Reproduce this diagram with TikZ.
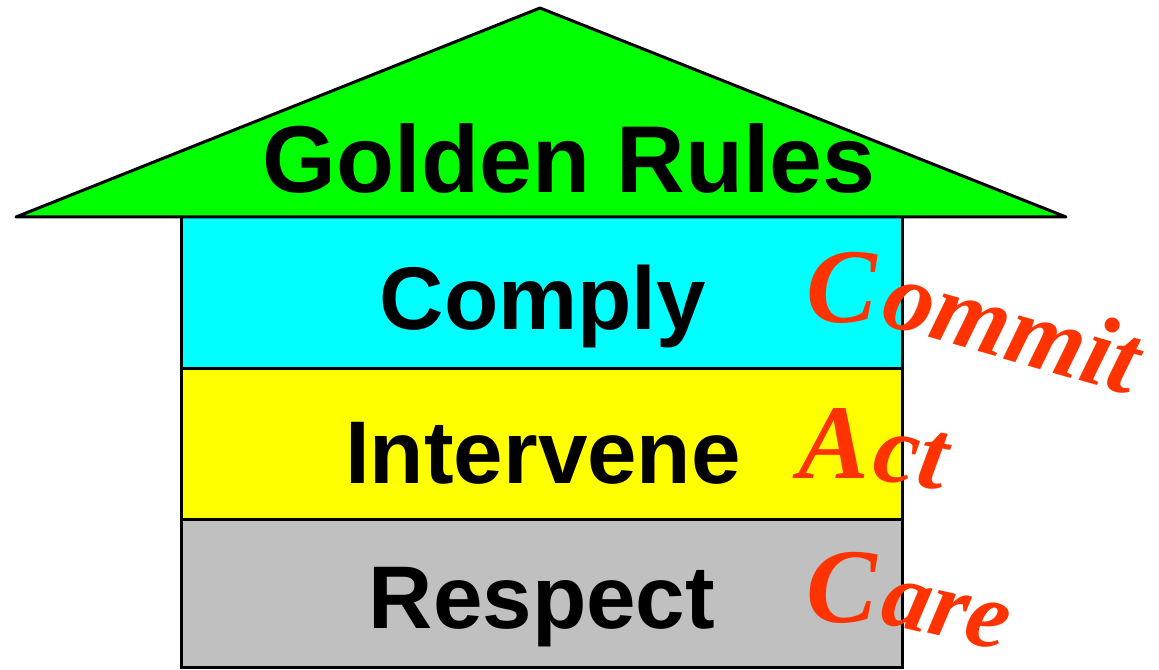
\documentclass[tikz,border=0pt]{standalone}
\usepackage{fontspec}
\newfontfamily\rulefont{Liberation Sans}
\newfontfamily\wordfont{Liberation Serif}
\usetikzlibrary{positioning}
\definecolor{roofgreen}{HTML}{00FF00}
\definecolor{bandcyan}{HTML}{00FFFF}
\definecolor{bandyellow}{HTML}{FFFF00}
\definecolor{bandgray}{HTML}{C0C0C0}
\definecolor{wordred}{HTML}{FF3300}
\tikzset{
  band/.style={draw=black,line width=1.5pt},
  rule/.style={inner sep=0pt,anchor=base,font=\rulefont\bfseries\fontsize{44.5}{50}\selectfont},
  capital/.style={inner sep=0pt,anchor=base east,text=wordred,font=\wordfont\bfseries\itshape\fontsize{53}{60}\selectfont},
  tail/.style={inner sep=0pt,anchor=base west,text=wordred,font=\wordfont\bfseries\itshape\fontsize{50}{60}\selectfont},
}
\begin{document}
\begin{tikzpicture}[x=0.5pt,y=0.5pt]
  \useasboundingbox (0,0) rectangle (1159,669);
%
  \fill[white] (0,0) rectangle (1159,669);
%
  \draw[band,fill=bandgray]   (181,2)   rectangle (902,150);
  \draw[band,fill=bandyellow] (181,150) rectangle (902,300);
  \draw[band,fill=bandcyan]   (181,300) rectangle (902,452);
%
  \draw[band,fill=roofgreen,line join=round] (16,452) -- (540,661) -- (1066,452) -- cycle;
%
  \node[rule,font=\rulefont\bfseries\fontsize{47.5}{52}\selectfont] (golden) at (569,476) {Golden Rules};
  \node[rule] (comply) at (543,339) {Comply};
  \node[rule] (intervene) at (543,186) {Intervene};
  \node[rule] (respect) at (542,41) {Respect};
%
  \node[capital] (commitC) at (878,346) {C};
  \node[tail,rotate=-16] (commit) at (commitC.base east) {ommit};
%
  \node[capital] (actA) at (870,191) {A};
  \node[tail,rotate=-10] (act) at (actA.base east) {ct};
%
  \node[capital] (careC) at (878,47) {C};
  \node[tail,rotate=-13,font=\wordfont\bfseries\itshape\fontsize{48}{56}\selectfont] (care) at (careC.base east) {are};
%
\end{tikzpicture}
\end{document}
